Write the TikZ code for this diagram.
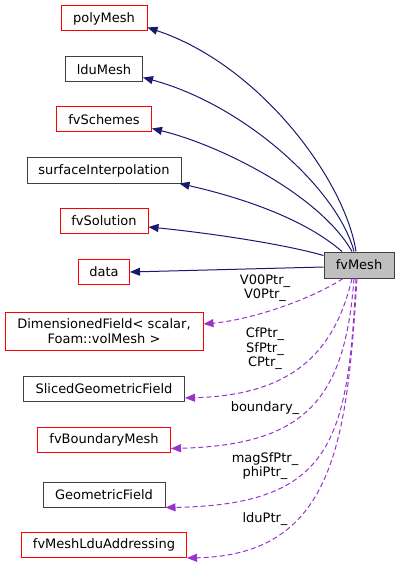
\documentclass[tikz,border=0pt]{standalone}
\usepackage{fontspec}
\setmainfont{DejaVu Sans}
\usetikzlibrary{arrows.meta}
\definecolor{navyedge}{HTML}{191970}
\definecolor{purpedge}{HTML}{9A32CD}
\definecolor{redbox}{HTML}{FF0000}
\definecolor{darkbox}{HTML}{404040}
\definecolor{mainfill}{HTML}{BFBFBF}
\tikzset{
  box/.style={draw=darkbox, line width=1pt, inner sep=0pt, minimum height=25pt, font=\fontsize{13}{14.5}\selectfont, align=center},
  redb/.style={box, draw=redbox},
  mainb/.style={box, fill=mainfill},
  inh/.style={navyedge, line width=1pt, -{Triangle[length=10pt,width=8pt]}},
  use/.style={purpedge, line width=1pt, dash pattern=on 5pt off 3pt, -{Triangle[length=10pt,width=8pt]}},
  lbl/.style={font=\fontsize{13}{14.5}\selectfont, align=center, inner sep=0pt}
}
\begin{document}
\begin{tikzpicture}[x=1pt,y=-1pt]
\useasboundingbox (0,0) rectangle (400,564);
\node[redb, minimum width=86pt] (pm) at (104,18.5) {polyMesh};
\node[box, minimum width=77pt] (lm) at (104,69.5) {lduMesh};
\node[redb, minimum width=95pt] (fs) at (104,119.5) {fvSchemes};
\node[box, minimum width=154pt] (si) at (104,170.5) {surfaceInterpolation};
\node[redb, minimum width=88pt] (fo) at (104,221) {fvSolution};
\node[redb, minimum width=51pt] (da) at (104,272) {data};
\node[redb, minimum width=198pt, minimum height=38pt] (df) at (104,331) {DimensionedField< scalar,\\ Foam::volMesh >};
\node[box, minimum width=161pt] (sg) at (104,389) {SlicedGeometricField};
\node[redb, minimum width=133pt] (bm) at (104,439.5) {fvBoundaryMesh};
\node[box, minimum width=122pt] (gf) at (104,494.5) {GeometricField};
\node[redb, minimum width=165pt] (la) at (104,545) {fvMeshLduAddressing};
\node[mainb, minimum width=70pt, minimum height=26pt] (m) at (359,265) {fvMesh};

\draw[inh] ([xshift=-3pt]m.north) .. controls (345,180) and (260,65) .. ([yshift=4pt]pm.south east);
\draw[inh] ([xshift=-5pt]m.north) .. controls (338,190) and (245,105) .. ([yshift=5pt]lm.south east);
\draw[inh] ([xshift=-7pt]m.north) .. controls (320,195) and (220,145) .. ([yshift=4pt]fs.south east);
\draw[inh] ([xshift=-17pt]m.north) .. controls (300,215) and (230,195) .. ([xshift=-2pt]si.south east);
\draw[inh] ([yshift=-4pt]m.north west) .. controls (280,243) and (200,232) .. ([yshift=-6pt]fo.east);
\draw[inh] ([yshift=-2pt]m.west) -- (da.east);

\draw[use] ([xshift=-16pt]m.south) .. controls (310,300) and (250,320) .. ([yshift=7pt]df.east);
\draw[use] ([xshift=-7pt]m.south) .. controls (335,350) and (295,395) .. ([yshift=4pt]sg.south east);
\draw[use] ([xshift=-5pt]m.south) .. controls (345,400) and (305,445) .. ([yshift=4pt]bm.south east);
\draw[use] ([xshift=-3pt]m.south) .. controls (348,440) and (333,505) .. (gf.south east);
\draw[use] ([xshift=-2pt]m.south) .. controls (347,440) and (335,555) .. (la.south east);

\node[lbl] (l1) at (265,288) {V00Ptr\_\\V0Ptr\_};
\node[lbl] (l2) at (265,349) {CfPtr\_\\SfPtr\_\\CPtr\_};
\node[lbl] (l3) at (265,408) {boundary\_};
\node[lbl] (l4) at (265,466) {magSfPtr\_\\phiPtr\_};
\node[lbl] (l5) at (265,519) {lduPtr\_};
\end{tikzpicture}
\end{document}
